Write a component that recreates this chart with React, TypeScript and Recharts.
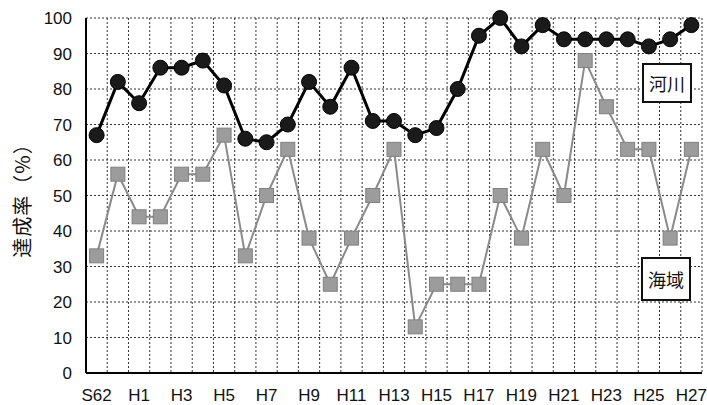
import React from "react";
import {
	LineChart,
	Line,
	XAxis,
	YAxis,
	CartesianGrid,
} from "recharts";

const years = [
	"S62", "S63", "H1", "H2", "H3", "H4", "H5", "H6", "H7", "H8",
	"H9", "H10", "H11", "H12", "H13", "H14", "H15", "H16", "H17", "H18",
	"H19", "H20", "H21", "H22", "H23", "H24", "H25", "H26", "H27",
];

// 河川
const river = [
	67, 82, 76, 86, 86, 88, 81, 66, 65, 70,
	82, 75, 86, 71, 71, 67, 69, 80, 95, 100,
	92, 98, 94, 94, 94, 94, 92, 94, 98,
];

// 海域
const sea = [
	33, 56, 44, 44, 56, 56, 67, 33, 50, 63,
	38, 25, 38, 50, 63, 13, 25, 25, 25, 50,
	38, 63, 50, 88, 75, 63, 63, 38, 63,
];

const yTicks = [0, 10, 20, 30, 40, 50, 60, 70, 80, 90, 100];

const data = years.map((year, i) => ({ year, river: river[i], sea: sea[i] }));

const tickFont = { fontFamily: "Liberation Sans, Arial, sans-serif", fontSize: 17, fill: "#111" };

const SquareDot = (props: any) => {
	const { cx, cy, index } = props;
	if (cx == null || cy == null) return null;
	return (
		<rect
			key={`sq-${index}`}
			x={cx - 7}
			y={cy - 7}
			width={14}
			height={14}
			fill="#9c9c9c"
			stroke="#808080"
			strokeWidth={1}
		/>
	);
};

const YLabel = (props: any) => {
	const { viewBox } = props;
	const x = viewBox.x + 21;
	const y = viewBox.y + viewBox.height / 2;
	return (
		<text
			x={x}
			y={y}
			transform={`rotate(-90, ${x}, ${y})`}
			textAnchor="middle"
			dominantBaseline="central"
			style={{ fontFamily: "Noto Sans CJK JP, sans-serif", fontSize: 20, letterSpacing: 1 }}
			fill="#111"
		>
			達成率（%）
		</text>
	);
};

const boxStyle: React.CSSProperties = {
	position: "absolute",
	boxSizing: "border-box",
	border: "2px solid #111",
	background: "#fff",
	display: "flex",
	alignItems: "center",
	justifyContent: "center",
	fontFamily: "Noto Sans CJK JP, sans-serif",
	fontSize: 18,
	color: "#111",
	width: 50,
};

export default function App() {
	return (
		<div
			style={{
				position: "fixed",
				left: 0,
				top: 0,
				width: 707,
				height: 405,
				background: "#fff",
			}}
		>
			<LineChart
				width={707}
				height={405}
				data={data}
				margin={{ top: 18, right: 5, left: 0, bottom: 0 }}
			>
				<CartesianGrid
					yAxisId="left"
					stroke="#333"
					strokeDasharray="2 2"
					verticalCoordinatesGenerator={({ offset }: any) =>
						Array.from(
							{ length: years.length + 1 },
							(_, i) => offset.left + (offset.width * i) / years.length
						)
					}
				/>
				<XAxis
					dataKey="year"
					scale="band"
					interval={1}
					tickLine={false}
					tickSize={0}
					tickMargin={16}
					height={32}
					axisLine={{ stroke: "#000", strokeWidth: 2 }}
					tick={tickFont}
				/>
				<YAxis
					yAxisId="left"
					domain={[0, 100]}
					ticks={yTicks}
					width={86}
					tickLine={false}
					tickSize={0}
					tickMargin={14}
					axisLine={{ stroke: "#000", strokeWidth: 2 }}
					tick={tickFont}
					label={<YLabel />}
				/>
				<YAxis
					yAxisId="right"
					orientation="right"
					domain={[0, 100]}
					width={0}
					tick={false}
					tickLine={false}
					axisLine={{ stroke: "#000", strokeWidth: 1.5 }}
				/>
				<Line
					yAxisId="left"
					dataKey="sea"
					stroke="#8a8a8a"
					strokeWidth={2}
					dot={<SquareDot />}
					isAnimationActive={false}
				/>
				<Line
					yAxisId="left"
					dataKey="river"
					stroke="#000"
					strokeWidth={3}
					dot={{ r: 7.5, fill: "#1a1a1a", stroke: "#000", strokeWidth: 1 }}
					isAnimationActive={false}
				/>
			</LineChart>
			<div style={{ ...boxStyle, left: 642, top: 63, height: 40 }}>河川</div>
			<div style={{ ...boxStyle, left: 641, top: 257, height: 44 }}>海域</div>
		</div>
	);
}
